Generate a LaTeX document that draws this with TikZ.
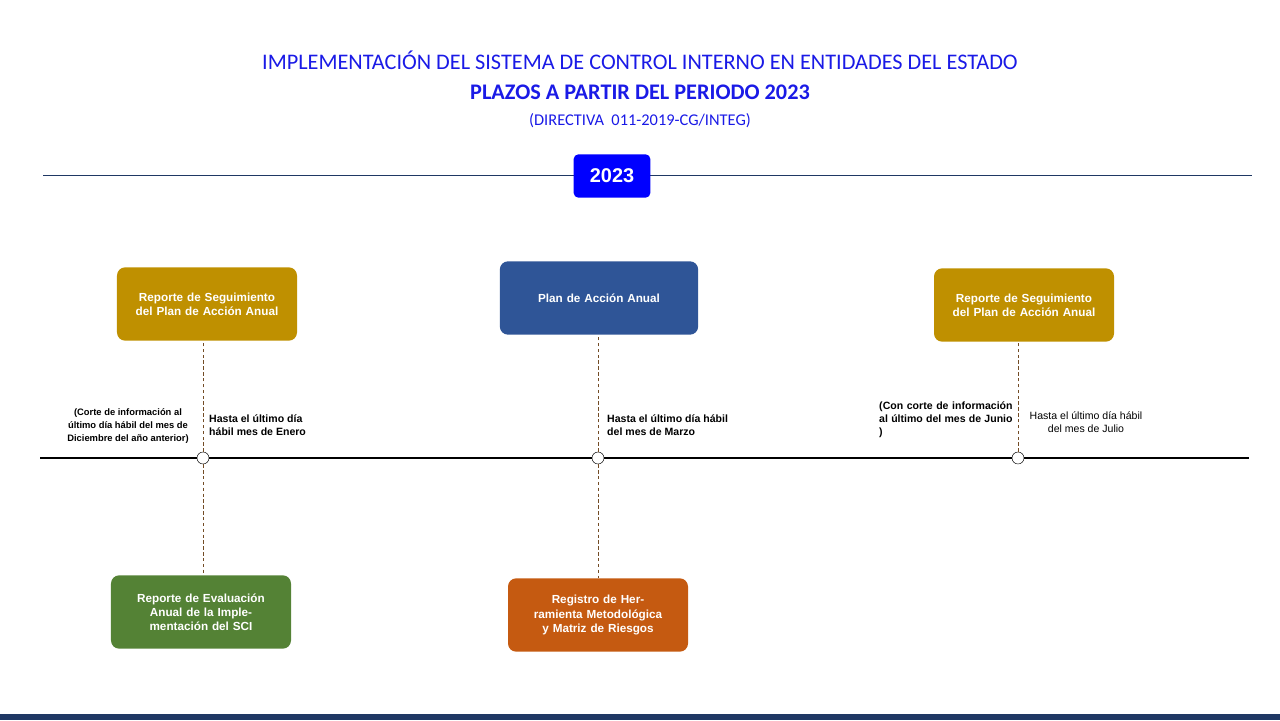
\documentclass[tikz,border=0pt]{standalone}
\usepackage{fontspec}
\setmainfont{Liberation Sans}
\newfontfamily\titlefont{Carlito}
\usetikzlibrary{positioning}
\definecolor{titleblue}{HTML}{1A1AE6}
\definecolor{navy}{HTML}{1F3864}
\definecolor{gold}{HTML}{BF9000}
\definecolor{planblue}{HTML}{2F5597}
\definecolor{leafgreen}{HTML}{548235}
\definecolor{rust}{HTML}{C55A11}
\begin{document}
\begin{tikzpicture}[x=0.03cm,y=-0.03cm]
    \tikzset{box/.style={rounded corners=7pt,text=white,font=\bfseries\fontsize{10}{12}\selectfont,align=center,minimum width=5.4cm,minimum height=2.2cm,text width=4.8cm},
        mark dot/.style={circle,draw=black,fill=white,inner sep=0pt,minimum size=0.36cm},
        guide/.style={densely dashed,draw=brown!60!black,thin},
        note/.style={font=\bfseries\fontsize{9}{11}\selectfont,inner sep=0pt}}
    \useasboundingbox (0,0) rectangle (1280,720);
    % \draw (0, 0) grid (1280, 720);
    \fill[navy] (0,714) rectangle (1280,720);
    \node[text=titleblue,font=\titlefont\fontsize{19}{22}\selectfont] (t1) at (640,60) {IMPLEMENTACIÓN DEL SISTEMA DE CONTROL INTERNO EN ENTIDADES DEL ESTADO};
    \node[text=titleblue,font=\titlefont\bfseries\fontsize{19}{22}\selectfont] (t2) at (640,92) {PLAZOS A PARTIR DEL PERIODO 2023};
    \node[text=titleblue,font=\titlefont\fontsize{14}{17}\selectfont] (t3) at (640,121) {(DIRECTIVA\ \ 011-2019-CG/INTEG)};
    \coordinate (ya) at (43,175);
    \coordinate (yb) at (1252,175);
    \draw[navy,thick] (ya) -- (yb);
    \node[fill=blue,text=white,rounded corners=4pt,font=\bfseries\fontsize{17}{20}\selectfont,minimum width=2.3cm,minimum height=1.3cm] (year) at (612,176) {2023};
    \coordinate (ta) at (40,458);
    \coordinate (tb) at (1249,458);
    \draw[black,line width=2.2pt] (ta) -- (tb);
    \node[mark dot] (d1) at (203,458) {};
    \node[mark dot] (d2) at (598,458) {};
    \node[mark dot] (d3) at (1018,458) {};
    \node[box,fill=gold] (seg1) at (207,304) {Reporte de Seguimiento del Plan de Acción Anual};
    \node[box,fill=planblue,minimum width=5.95cm] (plan) at (599,298) {Plan de Acción Anual};
    \node[box,fill=gold] (seg2) at (1024,305) {Reporte de Seguimiento del Plan de Acción Anual};
    \node[box,fill=leafgreen] (eval) at (201,612) {Reporte de Evaluación Anual de la Implementación del SCI};
    \node[box,fill=rust] (reg) at (598,615) {Registro de Herramienta Metodológica y Matriz de Riesgos};
    \draw[guide] (d1) -- (d1 |- seg1.south);
    \draw[guide] (d1) -- (d1 |- eval.north);
    \draw[guide] (d2) -- (d2 |- plan.south);
    \draw[guide] (d2) -- (d2 |- reg.north);
    \draw[guide] (d3) -- (d3 |- seg2.south);
    \node[note,align=center,font=\bfseries\fontsize{8}{11}\selectfont] (n1) at (128,426) {(Corte de información al\\último día hábil del mes de\\Diciembre del año anterior)};
    \node[note,align=left,anchor=west] (n2) at (209,425) {Hasta el último día\\hábil mes de Enero};
    \node[note,align=left,anchor=west] (n3) at (607,425) {Hasta el último día hábil\\del mes de Marzo};
    \node[note,align=justify,text width=4.0cm,anchor=west] (n4) at (879,420) {(Con corte de información al último del mes de Junio )};
    \node[align=center,font=\fontsize{9}{11}\selectfont,inner sep=0pt] (n5) at (1086,422) {Hasta el último día hábil\\del mes de Julio};
\end{tikzpicture}
\end{document}
